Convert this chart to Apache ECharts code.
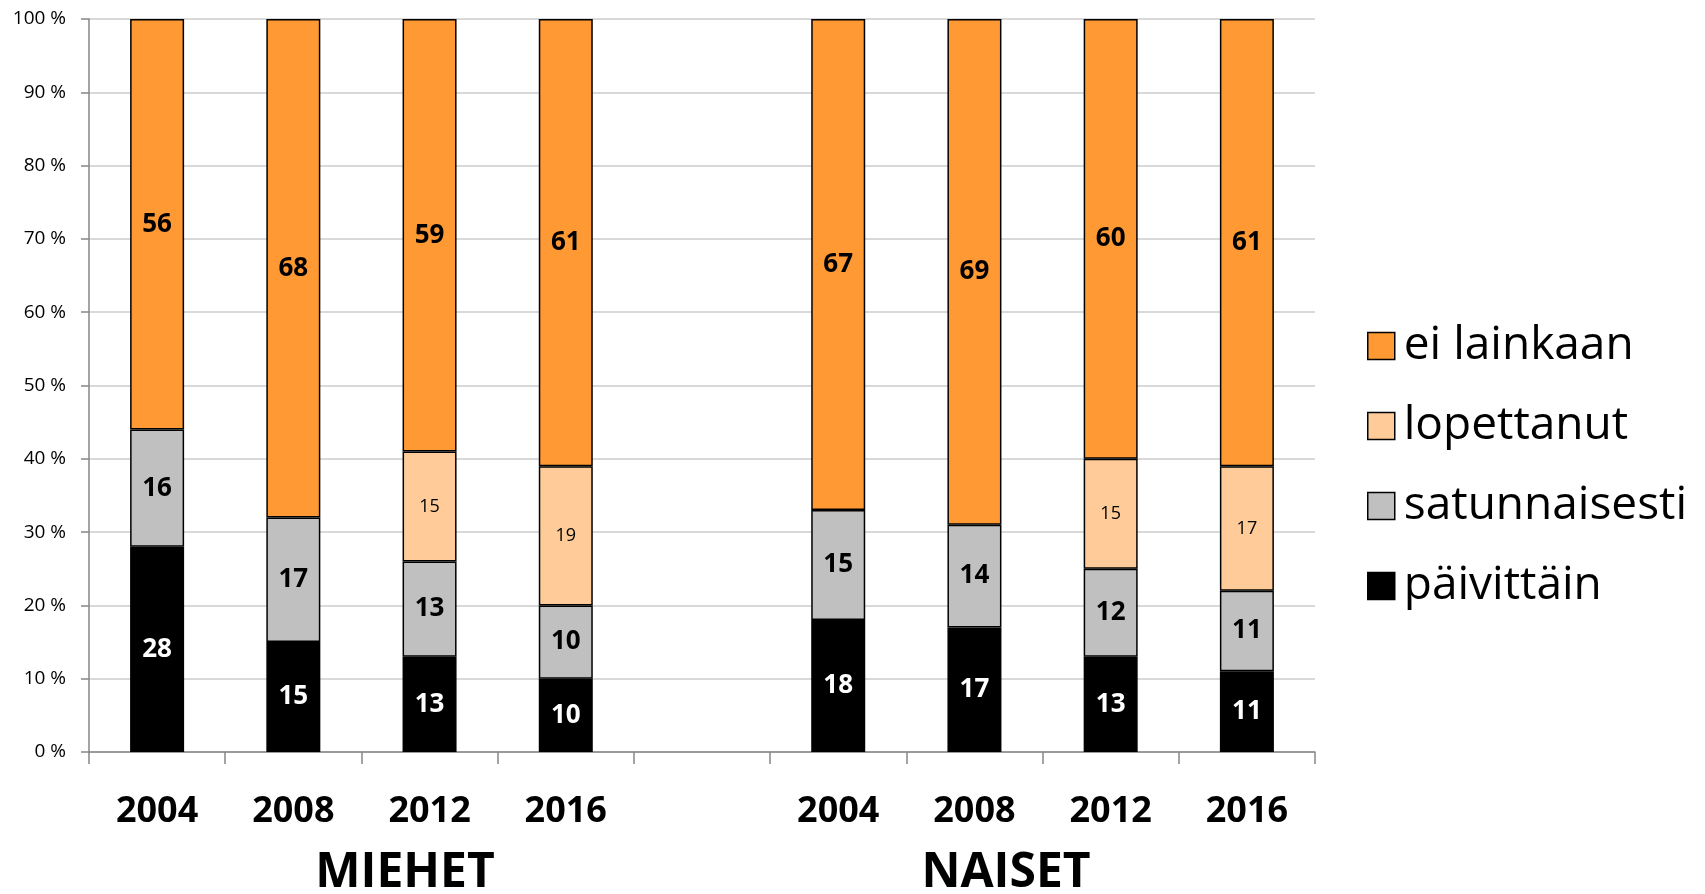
<!DOCTYPE html>
<html>
<head>
<meta charset="utf-8">
<script src="https://cdn.jsdelivr.net/npm/echarts@6/dist/echarts.min.js"></script>
<style>
  html, body { margin: 0; padding: 0; background: #fff; }
  #chart { width: 1705px; height: 894px; }
</style>
</head>
<body>
<div id="chart"></div>
<script>
// categories: two groups of survey years with an empty slot between them
const years = ['2004', '2008', '2012', '2016']
const categories = [...years, '', ...years]

// values per series, MIEHET then gap then NAISET (percent)
const paivittain = [28, 15, 13, 10, null, 18, 17, 13, 11]
const satunnaisesti = [16, 17, 13, 10, null, 15, 14, 12, 11]
const lopettanut = [null, null, 15, 19, null, null, null, 15, 17]
const eiLainkaan = [56, 68, 59, 61, null, 67, 69, 60, 61]

const groupNames = ['MIEHET', 'NAISET']

const font = '"Open Sans", Lato, sans-serif'
const chartDom = document.getElementById('chart')
const myChart = echarts.init(chartDom)

const barBorder = { borderColor: '#000', borderWidth: 1.5 }

const makeSeries = (name, data, color, label) => ({
  name,
  type: 'bar',
  stack: 'total',
  data,
  barWidth: 54,
  itemStyle: { color, ...barBorder },
  label: {
    show: true,
    position: 'inside',
    fontFamily: font,
    formatter: (p) => (p.value == null ? '' : p.value),
    ...label,
  },
  emphasis: { disabled: true },
})

const option = {
  animation: false,
  grid: { left: 89, right: 390, top: 19, bottom: 142 },
  legend: {
    orient: 'vertical',
    left: 1362,
    top: 316,
    icon: 'rect',
    itemWidth: 27,
    itemHeight: 27,
    itemGap: 30,
    data: ['ei lainkaan', 'lopettanut', 'satunnaisesti', 'päivittäin'],
    itemStyle: { borderColor: '#000', borderWidth: 1.5 },
    textStyle: { fontFamily: font, fontSize: 46, lineHeight: 50, color: '#000', padding: [0, 0, 0, 4] },
  },
  xAxis: {
    type: 'category',
    data: categories,
    axisLine: { lineStyle: { color: '#868686', width: 1.5 } },
    axisTick: { show: true, length: 12, lineStyle: { color: '#868686', width: 1.5 } },
    axisLabel: {
      fontFamily: font,
      fontSize: 36,
      fontWeight: 'bold',
      color: '#000',
      margin: 42,
      lineHeight: 36,
      interval: 0,
    },
  },
  yAxis: {
    type: 'value',
    min: 0,
    max: 100,
    interval: 10,
    axisLine: { show: true, lineStyle: { color: '#868686', width: 1.5 } },
    axisTick: { show: true, length: 8, lineStyle: { color: '#868686', width: 1.5 } },
    splitLine: { lineStyle: { color: '#d9d9d9', width: 2 } },
    axisLabel: {
      fontFamily: font,
      fontSize: 19,
      color: '#000',
      margin: 23,
      formatter: '{value} %',
    },
  },
  graphic: [
    { type: 'text', x: 405, y: 873, style: { text: groupNames[0], font: 'bold 48px ' + font, fill: '#000', align: 'center', verticalAlign: 'middle' } },
    { type: 'text', x: 1006, y: 873, style: { text: groupNames[1], font: 'bold 48px ' + font, fill: '#000', align: 'center', verticalAlign: 'middle' } },
  ],
  series: [
    makeSeries('päivittäin', paivittain, '#000000', { color: '#fff', fontWeight: 'bold', fontSize: 26 }),
    makeSeries('satunnaisesti', satunnaisesti, '#c0c0c0', { color: '#000', fontWeight: 'bold', fontSize: 26 }),
    makeSeries('lopettanut', lopettanut, '#ffcc99', { color: '#000', fontSize: 18 }),
    makeSeries('ei lainkaan', eiLainkaan, '#ff9933', { color: '#000', fontWeight: 'bold', fontSize: 26 }),
  ],
}
option && myChart.setOption(option)
</script>
</body>
</html>
